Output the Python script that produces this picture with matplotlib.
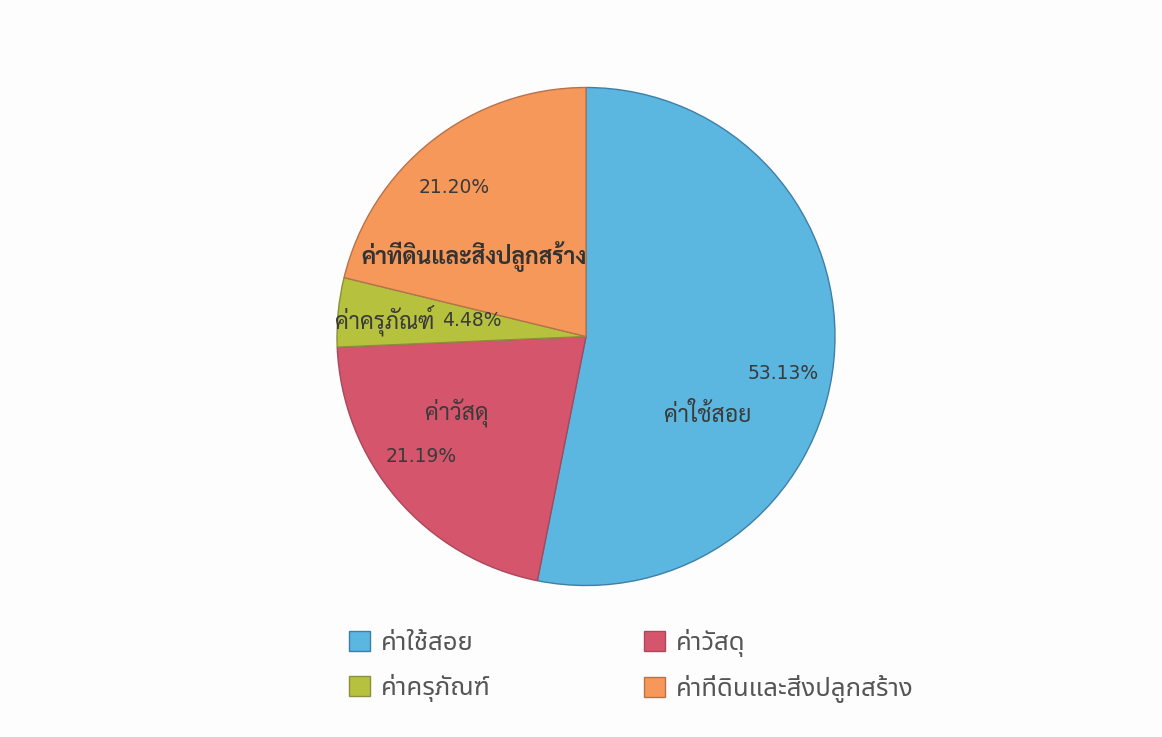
import matplotlib
matplotlib.use("Agg")
import matplotlib.pyplot as plt
from matplotlib import font_manager as fm
from matplotlib.patches import Patch

# data
categories = ["ค่าใช้สอย", "ค่าวัสดุ", "ค่าครุภัณฑ์", "ค่าที่ดินและสิ่งปลูกสร้าง"]
shares = [53.13, 21.19, 4.48, 21.20]
pct_text = ["53.13%", "21.19%", "4.48%", "21.20%"]
colors = ["#5bb6e0", "#d5566c", "#b6c23e", "#f6985a"]
edges = ["#3e7fa8", "#a8485a", "#8a8f3a", "#b8724a"]

# pick an installed Thai font
names = set(f.name for f in fm.fontManager.ttflist)
def pick(cands):
    for c in cands:
        if c in names:
            return c
    return "DejaVu Sans"

thai_label = pick(["Sarabun", "Noto Sans Thai Looped", "Noto Sans Thai", "Athiti", "Bai Jamjuree"])
thai_legend = pick(["Noto Sans Thai", "Sarabun", "Athiti"])

fig = plt.figure(figsize=(11.62, 7.37), dpi=100)
fig.patch.set_facecolor("#fdfdfd")

W, H = 1162.0, 737.0
cx, cy, r = 586.0, 336.5, 249.0
ax = fig.add_axes([(cx - r) / W, (H - cy - r) / H, 2 * r / W, 2 * r / H])
wedges, _ = ax.pie(shares, colors=colors, startangle=90, counterclock=False,
                   radius=1.0, wedgeprops=dict(linewidth=1.0))
for w, e in zip(wedges, edges):
    w.set_edgecolor(e)
ax.set_xlim(-1, 1)
ax.set_ylim(-1, 1)

# label layout (name x, y, pct x, y) in pie radius units
lay = [
    (0.49, -0.315, 0.79, -0.15),
    (-0.52, -0.31, -0.66, -0.48),
    (-0.81, 0.066, -0.46, 0.066),
    (-0.45, 0.32, -0.53, 0.60),
]
txtcol = "#3a3a3a"
for i in range(len(categories)):
    nx, ny, px, py = lay[i]
    if i == 3:
        ax.text(nx, ny, categories[i], ha="center", va="center", fontsize=16.5,
                fontweight="bold", color="#333333", family=[thai_label, "DejaVu Sans"])
    else:
        ax.text(nx, ny, categories[i], ha="center", va="center", fontsize=16.5,
                color=txtcol, family=[thai_label, "DejaVu Sans"])
    ax.text(px, py, pct_text[i], ha="center", va="center", fontsize=13.5,
            color=txtcol, family="DejaVu Sans")

handles = [Patch(facecolor=colors[i], edgecolor=edges[i], label=categories[i]) for i in range(4)]
order = [0, 2, 1, 3]
leg = fig.legend([handles[i] for i in order], [categories[i] for i in order],
                 loc="center left", bbox_to_anchor=(326 / W, 1 - 666 / H), ncol=2,
                 frameon=False, handlelength=0.82, handleheight=0.82, handletextpad=0.4,
                 columnspacing=6.0, labelspacing=0.7,
                 prop=dict(family=[thai_legend, "DejaVu Sans"], size=18.5))
for t in leg.get_texts():
    t.set_color("#555555")

fig.savefig("out.png", dpi=100, facecolor=fig.get_facecolor())
